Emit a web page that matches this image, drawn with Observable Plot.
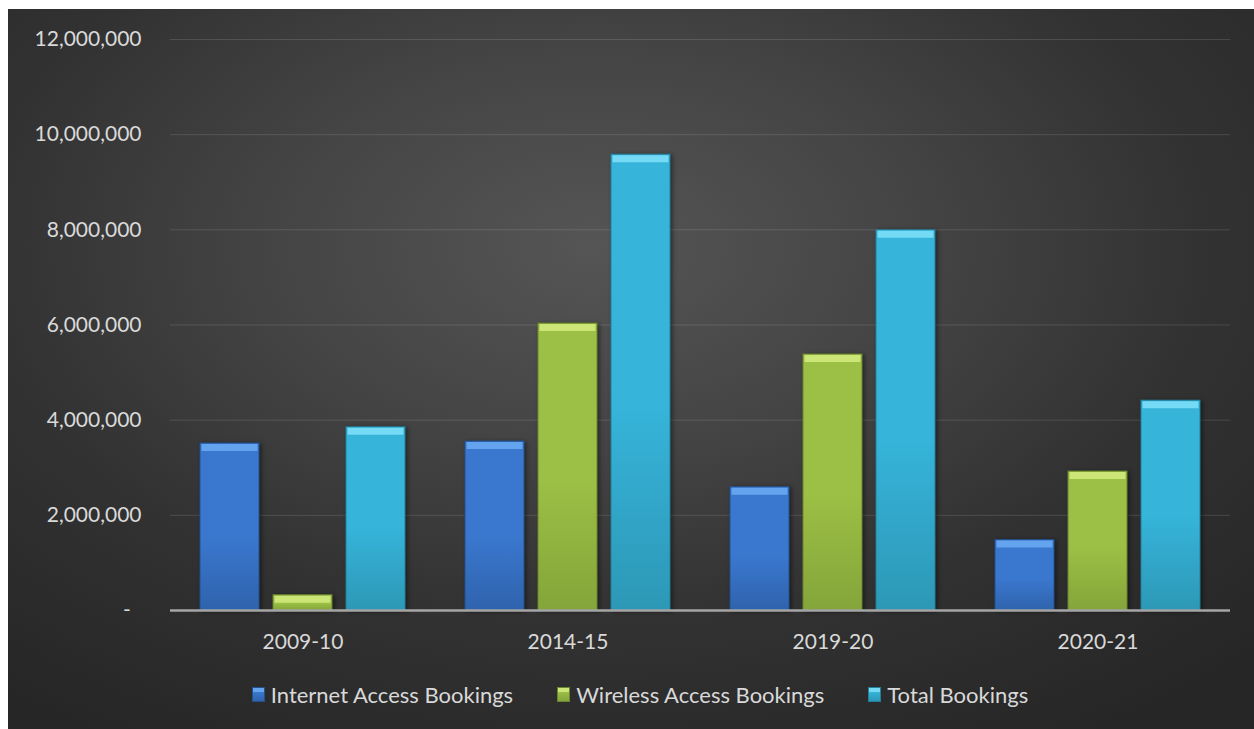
<!DOCTYPE html>
<html>
<head>
<meta charset="utf-8">
<script src="https://cdn.jsdelivr.net/npm/d3@7"></script>
<script src="https://cdn.jsdelivr.net/npm/@observablehq/plot@0.6"></script>
<style>
  html, body { margin: 0; padding: 0; background: #ffffff; }
  #chart {
    position: absolute; left: 8px; top: 9px; width: 1246px; height: 720px;
    background: radial-gradient(ellipse 75% 80% at 47% 33%, #555555 0%, #444444 35%, #323232 65%, #262626 100%);
    font-family: Lato, "Open Sans", sans-serif;
    overflow: hidden;
  }
  #chart svg { position: absolute; left: 0; top: 0; }
  #chart svg g[aria-label="bar"] rect { filter: drop-shadow(2px 1px 2px rgba(0,0,0,0.45)); }
  #legend {
    position: absolute; left: 9px; width: 1246px; top: 671px; height: 28px;
    display: flex; justify-content: center; align-items: center;
    color: #d9d9d9; font-size: 22px;
  }
  .item { display: flex; align-items: center; margin: 0 22px; }
  .sw { width: 13px; height: 15px; margin-right: 6px; }
</style>
</head>
<body>
<div id="chart"><div id="legend"></div></div>
<script>
const years = ["2009-10", "2014-15", "2019-20", "2020-21"];
const seriesNames = ["Internet Access Bookings", "Wireless Access Bookings", "Total Bookings"];
const internet = [3510000, 3550000, 2590000, 1480000];
const wireless = [320000, 6030000, 5380000, 2920000];
const total = [3850000, 9580000, 7990000, 4410000];
const yTicks = [0, 2000000, 4000000, 6000000, 8000000, 10000000, 12000000];

const mainColors = ["#3a78cf", "#9cbf45", "#36b4da"];
const topColors = ["#64a4ee", "#cbe677", "#74daf6"];
const bottomColors = ["#2f63ad", "#84a53a", "#2d98b6"];
const edgeColors = ["#24508e", "#6a8530", "#23809a"];

const columns = [internet, wireless, total];
const data = [];
years.forEach((yr, i) => {
  seriesNames.forEach((s, j) => {
    data.push({year: yr, series: s, value: columns[j][i]});
  });
});

const fmt = d3.format(",");
const plot = Plot.plot({
  width: 1246,
  height: 666,
  marginTop: 30,
  marginBottom: 65,
  marginLeft: 160,
  marginRight: 23,
  style: {background: "transparent", color: "#d9d9d9", fontFamily: "Lato, 'Open Sans', sans-serif", fontSize: "21px"},
  fx: {domain: years, padding: 0, label: null},
  x: {domain: seriesNames, paddingInner: 0.19, paddingOuter: 0.39, axis: null},
  y: {domain: [0, 12000000], ticks: yTicks, label: null},
  color: {domain: seriesNames, range: ["url(#g0)", "url(#g1)", "url(#g2)"]},
  marks: [
    Plot.gridY(yTicks, {stroke: "#ffffff", strokeOpacity: 0.13, strokeWidth: 1}),
    Plot.axisY(yTicks, {tickSize: 0, tickPadding: 29, label: null,
      tickFormat: d => d === 0 ? "-\u00a0\u00a0" : fmt(d), fill: "#d9d9d9"}),
    Plot.axisFx({anchor: "bottom", tickSize: 0, tickPadding: 24, label: null, fill: "#d9d9d9"}),
    Plot.barY(data, {fx: "year", x: "series", y: "value", fill: "series",
      stroke: d => edgeColors[seriesNames.indexOf(d.series)], strokeWidth: 1}),
    Plot.tickY(data, {fx: "year", x: "series", y: "value",
      stroke: d => topColors[seriesNames.indexOf(d.series)], strokeWidth: 7, dy: 4, inset: 1.5}),
    Plot.ruleY([0], {stroke: "#a6a6a6", strokeWidth: 2.5})
  ]
});

const defs = document.createElementNS("http://www.w3.org/2000/svg", "defs");
mainColors.forEach((c, i) => {
  const lg = document.createElementNS("http://www.w3.org/2000/svg", "linearGradient");
  lg.setAttribute("id", "g" + i);
  lg.setAttribute("x1", "0"); lg.setAttribute("y1", "0");
  lg.setAttribute("x2", "0"); lg.setAttribute("y2", "1");
  [[0, c], [0.55, c], [1, bottomColors[i]]].forEach(([o, col]) => {
    const st = document.createElementNS("http://www.w3.org/2000/svg", "stop");
    st.setAttribute("offset", o);
    st.setAttribute("stop-color", col);
    lg.appendChild(st);
  });
  defs.appendChild(lg);
});
plot.insertBefore(defs, plot.firstChild);

const chart = document.getElementById("chart");
chart.insertBefore(plot, chart.firstChild);

const legend = document.getElementById("legend");
seriesNames.forEach((s, i) => {
  const it = document.createElement("div");
  it.className = "item";
  const sw = document.createElement("div");
  sw.className = "sw";
  sw.style.background = `linear-gradient(180deg, ${topColors[i]} 0%, ${topColors[i]} 28%, ${mainColors[i]} 30%, ${bottomColors[i]} 100%)`;
  sw.style.border = `1px solid ${edgeColors[i]}`;
  sw.style.boxSizing = "border-box";
  const tx = document.createElement("span");
  tx.textContent = s;
  it.appendChild(sw); it.appendChild(tx);
  legend.appendChild(it);
});
</script>
</body>
</html>
